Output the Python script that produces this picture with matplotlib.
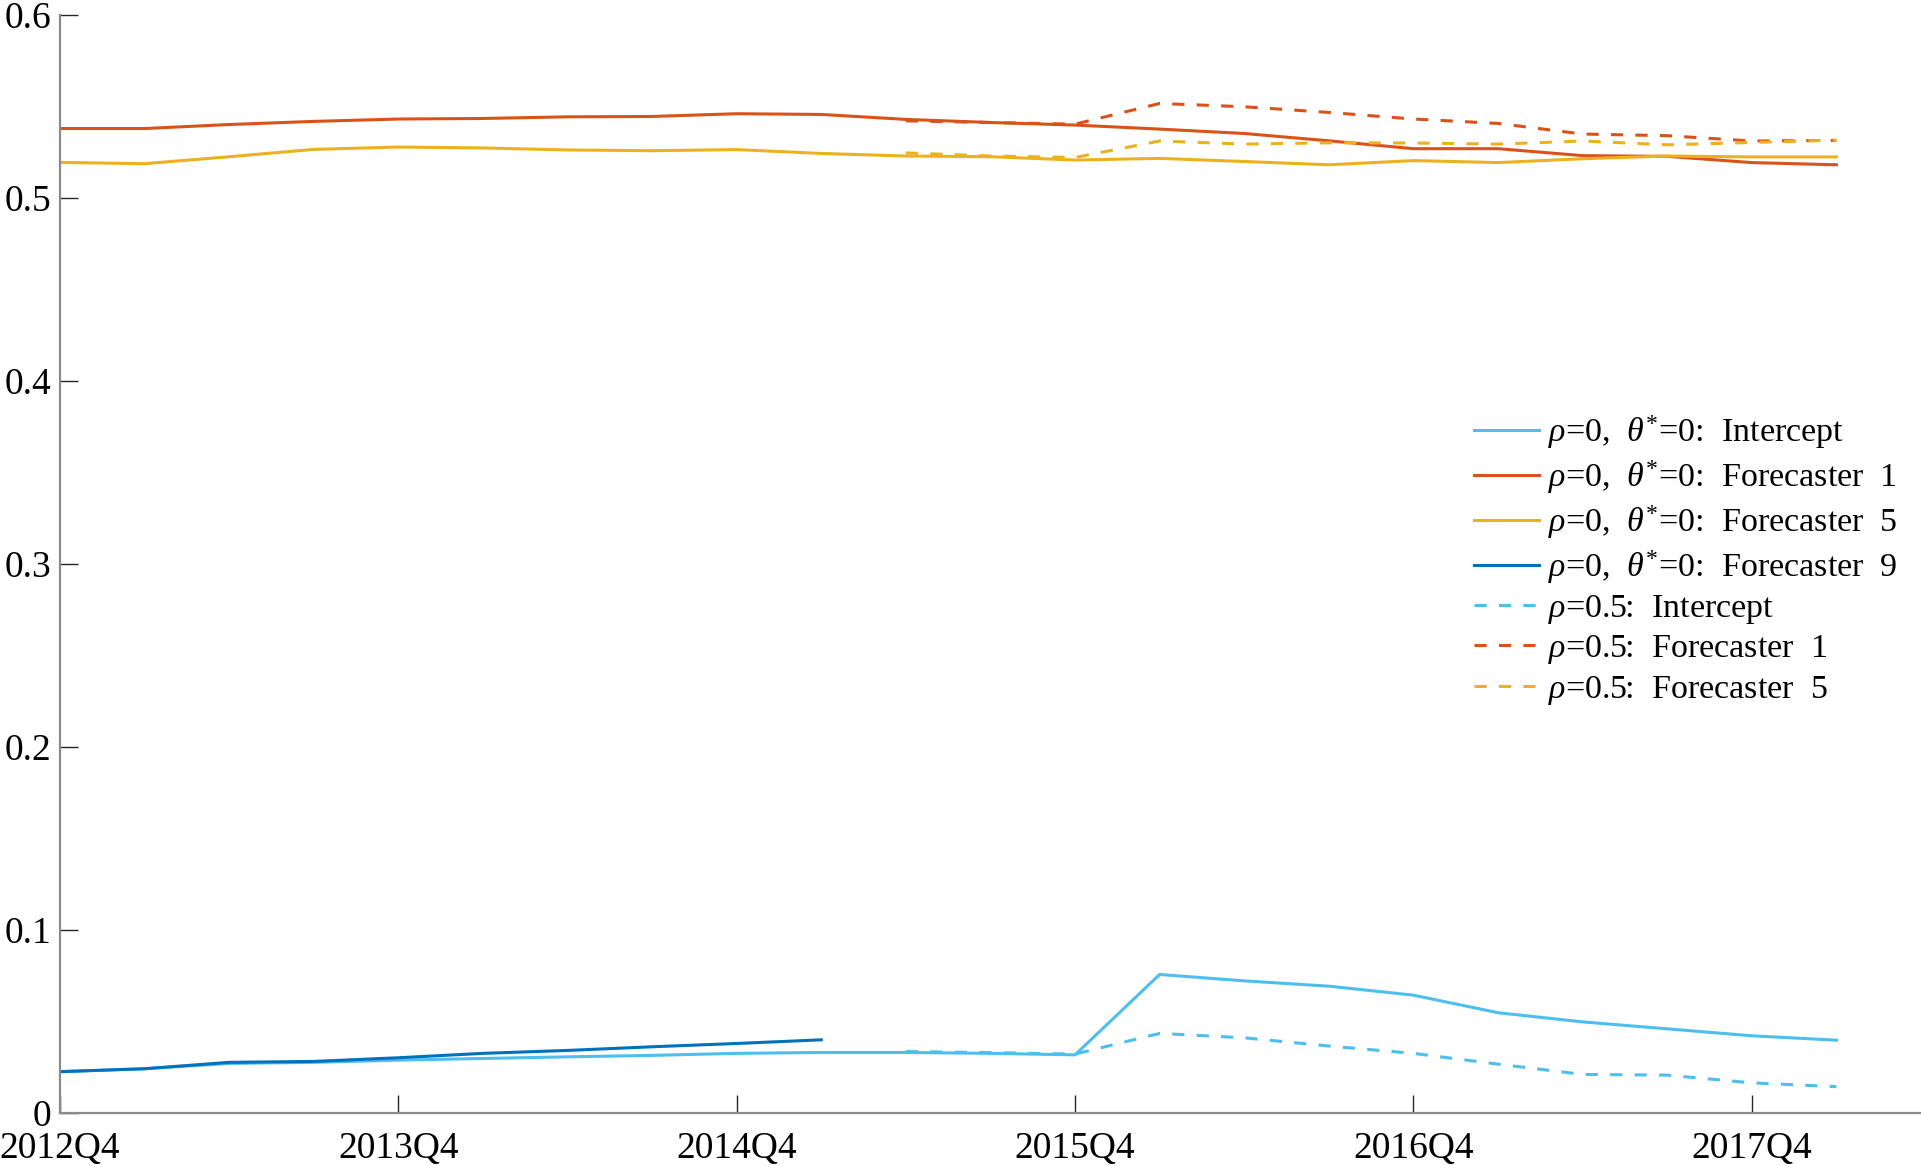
import numpy as np
import matplotlib
matplotlib.use("Agg")
from matplotlib import pyplot as plt

plt.rcParams['font.family'] = ['Liberation Serif', 'DejaVu Serif']
plt.rcParams['mathtext.fontset'] = 'custom'
plt.rcParams['mathtext.rm'] = 'Liberation Serif'
plt.rcParams['mathtext.it'] = 'Liberation Serif:italic'

nan = np.nan
quarters = np.arange(22)  # 2012Q4 .. 2018Q1
tick_pos = [0, 4, 8, 12, 16, 20]
tick_labels = ['2012Q4', '2013Q4', '2014Q4', '2015Q4', '2016Q4', '2017Q4']

# rho=0, theta*=0 (solid)
intercept = [0.0226, 0.0242, 0.0271, 0.0277, 0.0289, 0.0298, 0.0307, 0.0315, 0.0326, 0.0331,
             0.0331, 0.0326, 0.0318, 0.0757, 0.0722, 0.0693, 0.0644, 0.0548, 0.0498, 0.0460,
             0.0422, 0.0398]
fc1 = [0.5378, 0.5378, 0.5400, 0.5417, 0.5430, 0.5433, 0.5442, 0.5444, 0.5459, 0.5455,
       0.5428, 0.5411, 0.5397, 0.5375, 0.5351, 0.5311, 0.5268, 0.5268, 0.5230, 0.5226,
       0.5192, 0.5180]
fc5 = [0.5193, 0.5186, 0.5224, 0.5264, 0.5277, 0.5272, 0.5261, 0.5257, 0.5263, 0.5242,
       0.5228, 0.5224, 0.5206, 0.5215, 0.5198, 0.5180, 0.5203, 0.5192, 0.5213, 0.5228,
       0.5223, 0.5223]
fc9 = [0.0226, 0.0242, 0.0277, 0.0282, 0.0302, 0.0326, 0.0342, 0.0362, 0.0380, 0.0400,
       nan, nan, nan, nan, nan, nan, nan, nan, nan, nan, nan, nan]

# rho=0.5 (dashed)
intercept_r5 = [nan] * 10 + [0.0336, 0.0330, 0.0322, 0.0435, 0.0411, 0.0366, 0.0326, 0.0267,
                             0.0211, 0.0207, 0.0165, 0.0144]
fc1_r5 = [nan] * 10 + [0.5420, 0.5411, 0.5402, 0.5515, 0.5497, 0.5466, 0.5430, 0.5406,
                       0.5348, 0.5339, 0.5310, 0.5313]
fc5_r5 = [nan] * 10 + [0.5245, 0.5228, 0.5220, 0.5310, 0.5293, 0.5300, 0.5299, 0.5293,
                       0.5310, 0.5289, 0.5302, 0.5315]

c_light = '#4DBEEE'
c_red = '#D95319'
c_yel = '#EDB120'
c_dark = '#0072BD'

fig = plt.figure(figsize=(19.21, 11.65), dpi=100)
ax = fig.add_axes([0.0312, 0.0446, 0.9688, 0.9428])

lw = 2.2
ax.plot(quarters, intercept, color=c_light, lw=lw, label=r'$\rho$=0,  $\theta^{*}$=0:  Intercept')
ax.plot(quarters, fc1, color=c_red, lw=lw, label=r'$\rho$=0,  $\theta^{*}$=0:  Forecaster  1')
ax.plot(quarters, fc5, color=c_yel, lw=lw, label=r'$\rho$=0,  $\theta^{*}$=0:  Forecaster  5')
ax.plot(quarters, fc9, color=c_dark, lw=lw, label=r'$\rho$=0,  $\theta^{*}$=0:  Forecaster  9')
ax.plot(quarters, intercept_r5, color=c_light, lw=lw, dashes=(4, 4), label=r'$\rho$=0.5:  Intercept')
ax.plot(quarters, fc1_r5, color=c_red, lw=lw, dashes=(4, 4), label=r'$\rho$=0.5:  Forecaster  1')
ax.plot(quarters, fc5_r5, color=c_yel, lw=lw, dashes=(4, 4), label=r'$\rho$=0.5:  Forecaster  5')

ax.set_xlim(0, 22)
ax.set_ylim(0, 0.6)
ax.set_xticks(tick_pos)
ax.set_xticklabels(tick_labels)
ax.set_yticks([0, 0.1, 0.2, 0.3, 0.4, 0.5, 0.6])
ax.set_yticklabels(['0', '0.1', '0.2', '0.3', '0.4', '0.5', '0.6'])

for s in ['top', 'right']:
    ax.spines[s].set_visible(False)
for s in ['left', 'bottom']:
    ax.spines[s].set_color('#8a8a8a')
    ax.spines[s].set_linewidth(1.6)
ax.tick_params(direction='in', length=13, width=1, colors='#262626', labelsize=27)
ax.tick_params(axis='x', pad=13)
ax.tick_params(axis='y', pad=6)
for lab in ax.get_xticklabels() + ax.get_yticklabels():
    lab.set_color('black')

ax.legend(loc='upper left', bbox_to_anchor=(0.760, 0.637), frameon=False, fontsize=24.5,
          handlelength=1.9, handletextpad=0.25, labelspacing=0.215, borderaxespad=0,
          borderpad=0)

fig.savefig('out.png', dpi=100)
